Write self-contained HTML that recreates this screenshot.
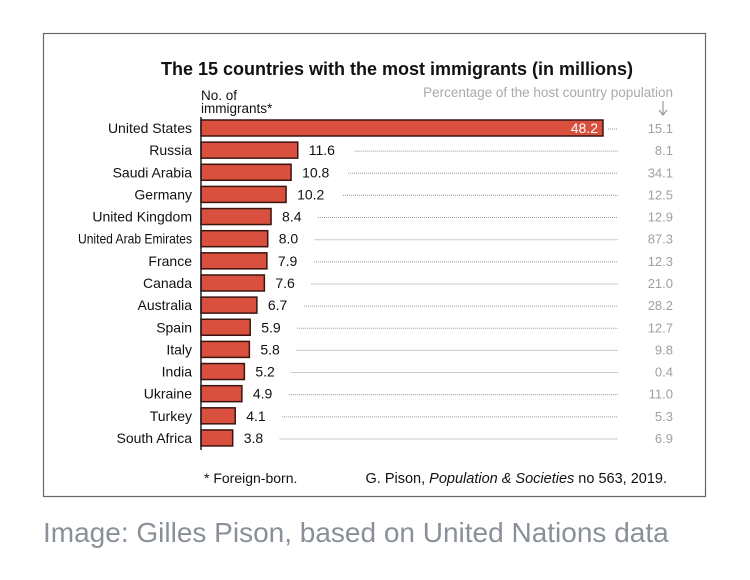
<!DOCTYPE html>
<html><head><meta charset="utf-8"><style>
html,body{margin:0;padding:0;background:#fff;}
svg{display:block;font-family:"Liberation Sans",sans-serif;}
</style></head><body>
<svg id="chart" width="750" height="580" viewBox="0 0 750 580">
<rect x="43.5" y="33.5" width="662" height="463" fill="#fff" stroke="#666" stroke-width="1.2"/>
<text x="397" y="75" text-anchor="middle" font-size="18" font-weight="bold" fill="#111">The 15 countries with the most immigrants (in millions)</text>
<text x="201" y="100" font-size="13.5" fill="#111"><tspan x="201">No. of</tspan><tspan x="201" dy="13">immigrants*</tspan></text>
<text x="673" y="97" text-anchor="end" font-size="13.5" fill="#aaa">Percentage of the host country population</text>
<g stroke="#999" fill="none" stroke-width="1.2"><line x1="663" y1="101" x2="663" y2="115"/><polyline points="659,110 663,115 667,110"/></g>
<g id="rows"></g>
<line x1="201" y1="117" x2="201" y2="450" stroke="#222" stroke-width="1.5"/>
<text x="204" y="483" font-size="14" fill="#111">*  Foreign-born.</text>
<text x="667" y="483" text-anchor="end" font-size="14.5" fill="#111">G. Pison, <tspan font-style="italic">Population &amp; Societies</tspan> no 563, 2019.</text>
<text x="43" y="542" font-size="28" fill="#8a9099">Image: Gilles Pison, based on United Nations data</text>
</svg>
<script>
const countries=["United States","Russia","Saudi Arabia","Germany","United Kingdom","United Arab Emirates","France","Canada","Australia","Spain","Italy","India","Ukraine","Turkey","South Africa"];
const immigrants=[48.2,11.6,10.8,10.2,8.4,8.0,7.9,7.6,6.7,5.9,5.8,5.2,4.9,4.1,3.8];
const percentLabels=["15.1","8.1","34.1","12.5","12.9","87.3","12.3","21.0","28.2","12.7","9.8","0.4","11.0","5.3","6.9"];
const NS="http://www.w3.org/2000/svg";
const x0=201, pxPerUnit=8.34;
function xScale(v){return x0+v*pxPerUnit;}
function yScale(i){return 128+i*22.14;}
const g=document.getElementById('rows');
function mk(tag,attrs,txt){const e=document.createElementNS(NS,tag);for(const k in attrs)e.setAttribute(k,attrs[k]);if(txt!=null)e.textContent=txt;g.appendChild(e);return e;}
countries.forEach((c,i)=>{
  const y=yScale(i), xe=xScale(immigrants[i]);
  const lab=mk('text',{x:192,y:y+5,'text-anchor':'end','font-size':14,fill:'#111'},c);
  
  
  if(c.length>16){lab.setAttribute('textLength',114);lab.setAttribute('lengthAdjust','spacingAndGlyphs');}
  const bar=mk('rect',{x:x0,y:y-8,width:xe-x0,height:16,fill:'#d9503f',stroke:'#3a1510','stroke-width':1.5});
  
  
  const txt=immigrants[i].toFixed(1);
  let lx,dotStart;
  if(i===0){
    const v=mk('text',{x:xe-5,y:y+5,'text-anchor':'end','font-size':14,fill:'#fff'},txt);
    
    
    dotStart=xe+5;
  } else {
    lx=xe+11;
    const v=mk('text',{x:lx,y:y+5,'font-size':14,fill:'#111'},txt);
    
    
    dotStart=lx+(txt.length>3?36:26)+10;
  }
  const d=mk('line',{x1:dotStart,y1:y+1,x2:618,y2:y+1,stroke:'#999','stroke-width':1,'stroke-dasharray':'1 1'});
  
  
  const p=mk('text',{x:673,y:y+5,'text-anchor':'end','font-size':13,fill:'#a0a0a0'},percentLabels[i]);
  
  
});
</script>
</body></html>
